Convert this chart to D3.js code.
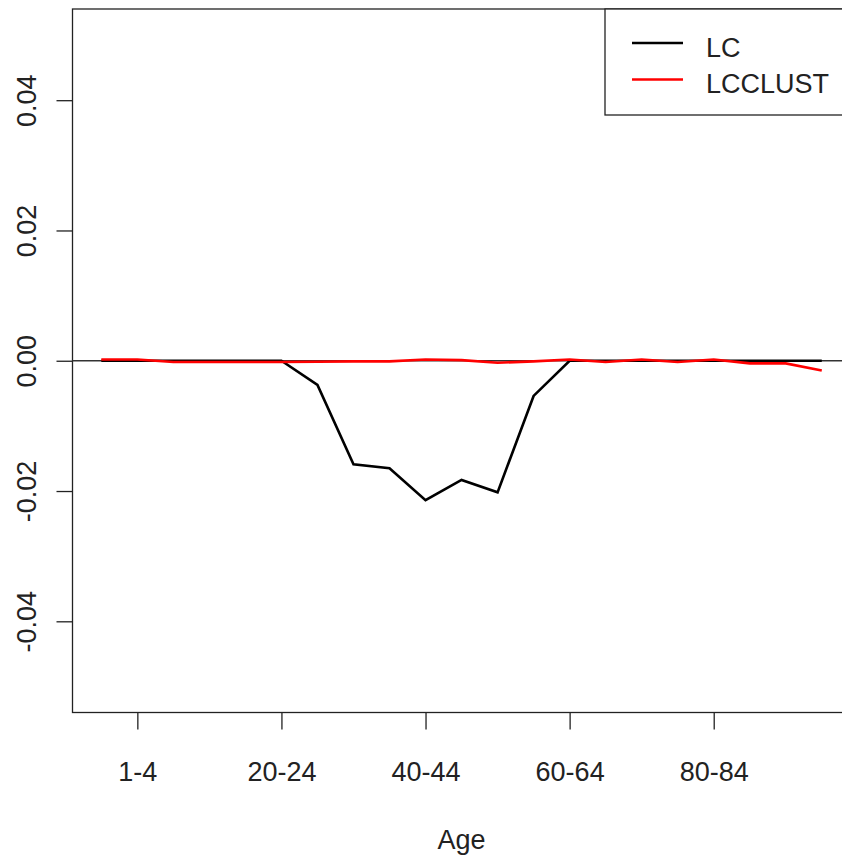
<!DOCTYPE html>
<html>
<head>
<meta charset="utf-8">
<script src="https://cdn.jsdelivr.net/npm/d3@7"></script>
<style>
  body { margin: 0; background: #fff; }
  svg { display: block; font-family: "Liberation Sans", Arial, sans-serif; }
</style>
</head>
<body>
<div id="graph-section"></div>
<script>
// age groups along the x axis
var ageGroups = ["0", "1-4", "5-9", "10-14", "15-19", "20-24", "25-29", "30-34", "35-39",
                 "40-44", "45-49", "50-54", "55-59", "60-64", "65-69", "70-74", "75-79",
                 "80-84", "85-89", "90-94", "95+"]
// labels that get a tick
var xTickLabels = ["1-4", "20-24", "40-44", "60-64", "80-84"]
var yTicks = [-0.04, -0.02, 0.00, 0.02, 0.04]

// series
var lcValues = [0, 0, 0, 0, 0, 0, -0.0037, -0.0159, -0.0165, -0.0214, -0.0183,
                -0.0202, -0.0054, 0, 0, 0, 0, 0, 0, 0, 0]
var lcclustValues = [0.0002, 0.0002, -0.0002, -0.0002, -0.0002, -0.0002, -0.00015, -0.0001, -0.0001,
                     0.0002, 0.0001, -0.0003, -0.0001, 0.0002, -0.0002, 0.0002, -0.0002,
                     0.0002, -0.0004, -0.0004, -0.0015]

var seriesNames = ["LC", "LCCLUST"]
var seriesColors = ["#000000", "#ff0000"]

var width = 842, height = 858
var plot = {left: 72.5, right: 850.6, top: 9, bottom: 712.5}

var svg = d3.select("div#graph-section").append("svg")
    .attr("width", width)
    .attr("height", height)

svg.append("rect")
    .attr("width", width)
    .attr("height", height)
    .attr("fill", "#fff")

// R style: positions 1..n with 4% padding each side
var n = ageGroups.length
var xScale = d3.scaleLinear()
    .domain([1 - 0.04 * (n - 1), n + 0.04 * (n - 1)])
    .range([plot.left, plot.right])

var yScale = d3.scaleLinear()
    .domain([-0.054, 0.054])
    .range([plot.bottom, plot.top])

// x axis (only the bottom line + ticks)
var xAxis = d3.axisBottom(xScale)
    .tickValues(xTickLabels.map(function(l) { return ageGroups.indexOf(l) + 1 }))
    .tickFormat(function(d) { return ageGroups[d - 1] })
    .tickSize(17)

var xg = svg.append("g")
    .attr("transform", "translate(0," + plot.bottom + ")")
    .call(xAxis)
xg.select(".domain").remove()
xg.selectAll("line").attr("stroke", "#222").attr("stroke-width", 1.3)
xg.selectAll("text")
    .attr("fill", "#222")
    .style("font-size", "27px")
    .attr("dy", null)
    .attr("y", 68.5)

// y axis, hyphen instead of unicode minus like R prints it
var yAxis = d3.axisLeft(yScale)
    .tickValues(yTicks)
    .tickFormat(function(d) { return d3.format(".2f")(d).replace("\u2212", "-") })
    .tickSize(16)

var yg = svg.append("g")
    .attr("transform", "translate(" + plot.left + ",0)")
    .call(yAxis)
yg.select(".domain").remove()
yg.selectAll("line").attr("stroke", "#222").attr("stroke-width", 1.3)
yg.selectAll("text")
    .attr("fill", "#222")
    .style("font-size", "27px")
    .attr("x", null)
    .attr("dy", null)
    .attr("text-anchor", "middle")
    .attr("transform", "translate(-36.5,0)rotate(-90)")

// box around the plot region
svg.append("rect")
    .attr("x", plot.left)
    .attr("y", plot.top)
    .attr("width", plot.right - plot.left)
    .attr("height", plot.bottom - plot.top)
    .attr("fill", "none")
    .attr("stroke", "#222")
    .attr("stroke-width", 1.3)

// axis title
svg.append("text")
    .attr("x", (plot.left + plot.right) / 2)
    .attr("y", 849)
    .attr("text-anchor", "middle")
    .attr("fill", "#222")
    .style("font-size", "27px")
    .text("Age")

// horizontal reference line at zero
svg.append("line")
    .attr("x1", plot.left)
    .attr("x2", plot.right)
    .attr("y1", yScale(0))
    .attr("y2", yScale(0))
    .attr("stroke", "#333")
    .attr("stroke-width", 1.4)

var line = d3.line()
    .x(function(d, i) { return xScale(i + 1) })
    .y(function(d) { return yScale(d) })

var allSeries = [lcValues, lcclustValues]
allSeries.forEach(function(vals, k) {
    svg.append("path")
        .datum(vals)
        .attr("fill", "none")
        .attr("stroke", seriesColors[k])
        .attr("stroke-width", 2.6)
        .attr("d", line)
})

// legend in the top right corner
svg.append("rect")
    .attr("x", 605)
    .attr("y", plot.top)
    .attr("width", plot.right - 605)
    .attr("height", 115 - plot.top)
    .attr("fill", "#fff")
    .attr("stroke", "#222")
    .attr("stroke-width", 1.3)

var legend = svg.append("g")
seriesNames.forEach(function(name, k) {
    var cy = 43 + k * 36.5
    legend.append("line")
        .attr("x1", 632)
        .attr("x2", 683)
        .attr("y1", cy)
        .attr("y2", cy)
        .attr("stroke", seriesColors[k])
        .attr("stroke-width", 2.6)
    legend.append("text")
        .attr("x", 706)
        .attr("y", cy + 13.5)
        .attr("fill", "#222")
        .style("font-size", "27px")
        .text(name)
})
</script>
</body>
</html>
